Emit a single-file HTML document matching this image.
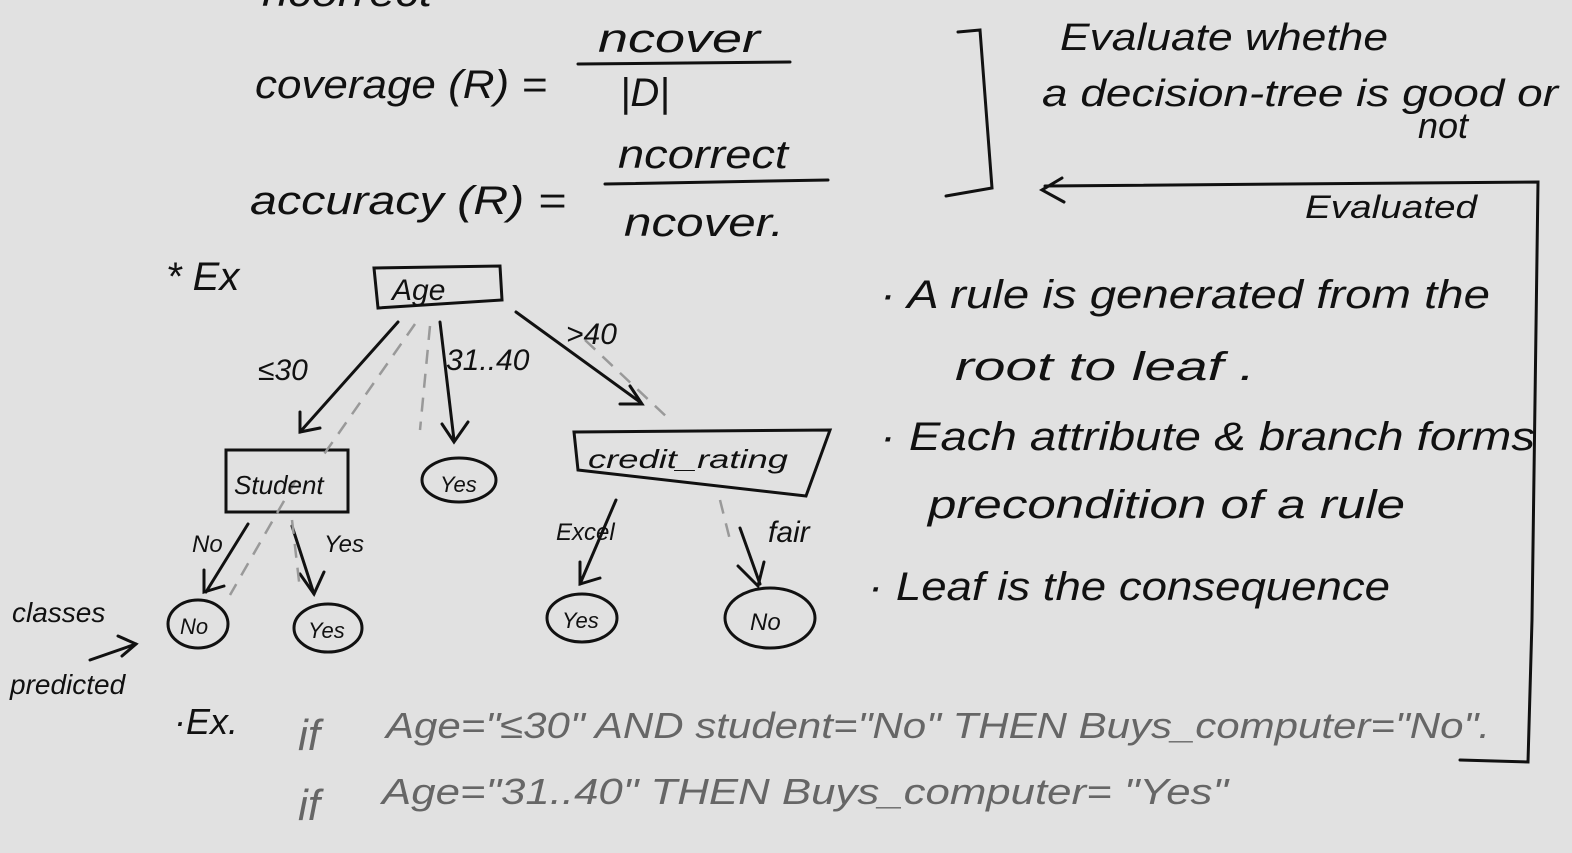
<!DOCTYPE html>
<html><head><meta charset="utf-8"><style>
html,body{margin:0;padding:0;background:#e1e1e1;}
svg{display:block}
text{font-family:"Liberation Sans",sans-serif;fill:#111}
.g{fill:#666}
</style></head><body>
<svg width="1572" height="853" viewBox="0 0 1572 853" xmlns="http://www.w3.org/2000/svg">
<rect width="1572" height="853" fill="#e1e1e1"/>
<g stroke="#111" stroke-width="3" fill="none" stroke-linecap="round">
<line x1="578" y1="64" x2="790" y2="62"/>
<line x1="605" y1="184" x2="828" y2="180"/>
<polyline points="958,32 980,30 992,188 946,196"/>
<polyline points="1460,760 1528,762 1532,620 1538,182 1045,186"/>
<polyline points="1062,178 1042,190 1064,202"/>
<polygon points="374,268 500,266 502,300 378,308"/>
<rect x="226" y="450" width="122" height="62"/>
<polygon points="574,432 830,430 806,496 578,470"/>
<ellipse cx="459" cy="480" rx="37" ry="22"/>
<ellipse cx="198" cy="624" rx="30" ry="24"/>
<ellipse cx="328" cy="628" rx="34" ry="24"/>
<ellipse cx="582" cy="618" rx="35" ry="24"/>
<ellipse cx="770" cy="618" rx="45" ry="30"/>
<line x1="398" y1="322" x2="300" y2="432"/>
<polyline points="300,412 300,432 320,428"/>
<line x1="440" y1="322" x2="454" y2="440"/>
<polyline points="442,424 454,442 468,422"/>
<line x1="516" y1="312" x2="640" y2="402"/>
<polyline points="620,404 642,404 630,386"/>
<line x1="248" y1="524" x2="206" y2="592"/>
<polyline points="204,570 204,592 224,586"/>
<line x1="292" y1="526" x2="314" y2="594"/>
<polyline points="300,574 314,594 324,572"/>
<line x1="616" y1="500" x2="580" y2="584"/>
<polyline points="580,562 580,584 600,578"/>
<line x1="740" y1="528" x2="760" y2="584"/>
<polyline points="738,566 758,586 764,562"/>
<line x1="90" y1="660" x2="136" y2="644"/>
<polyline points="118,636 136,644 122,656"/>
</g>
<g stroke="#999" stroke-width="2.5" fill="none" stroke-dasharray="14 10">
<line x1="415" y1="324" x2="320" y2="460"/>
<line x1="296" y1="480" x2="230" y2="595"/>
<line x1="430" y1="326" x2="420" y2="430"/>
<line x1="585" y1="340" x2="670" y2="420"/>
<line x1="292" y1="520" x2="300" y2="590"/>
<line x1="720" y1="500" x2="730" y2="540"/>
</g>
<g font-size="40" font-style="italic" lengthAdjust="spacingAndGlyphs">
<text x="262" y="6" textLength="170" lengthAdjust="spacingAndGlyphs">ncorrect</text>
<text x="255" y="98" textLength="292" lengthAdjust="spacingAndGlyphs">coverage (R) =</text>
<text x="598" y="52" textLength="162" lengthAdjust="spacingAndGlyphs">ncover</text>
<text x="620" y="106">|D|</text>
<text x="250" y="214" textLength="316" lengthAdjust="spacingAndGlyphs">accuracy (R) =</text>
<text x="618" y="168" textLength="170" lengthAdjust="spacingAndGlyphs">ncorrect</text>
<text x="624" y="236" textLength="160" lengthAdjust="spacingAndGlyphs">ncover.</text>
<text x="1060" y="50" font-size="38" textLength="328" lengthAdjust="spacingAndGlyphs">Evaluate whethe</text>
<text x="1042" y="106" font-size="38" textLength="516" lengthAdjust="spacingAndGlyphs">a decision-tree is good or</text>
<text x="1418" y="138" font-size="36">not</text>
<text x="1305" y="218" font-size="32" textLength="172" lengthAdjust="spacingAndGlyphs">Evaluated</text>
<text x="166" y="290">* Ex</text>
<text x="880" y="308" textLength="610" lengthAdjust="spacingAndGlyphs">· A rule is generated from the</text>
<text x="955" y="380" textLength="300" lengthAdjust="spacingAndGlyphs">root to leaf .</text>
<text x="880" y="450" textLength="655" lengthAdjust="spacingAndGlyphs">· Each attribute &amp; branch forms</text>
<text x="928" y="518" textLength="477" lengthAdjust="spacingAndGlyphs">precondition of a rule</text>
<text x="868" y="600" textLength="522" lengthAdjust="spacingAndGlyphs">· Leaf is the consequence</text>
</g>
<g font-size="30" font-style="italic">
<text x="392" y="300">Age</text>
<text x="258" y="380">≤30</text>
<text x="446" y="370">31..40</text>
<text x="566" y="344">&gt;40</text>
<text x="234" y="494" font-size="26">Student</text>
<text x="588" y="468" font-size="26" textLength="200" lengthAdjust="spacingAndGlyphs">credit_rating</text>
<text x="440" y="492" font-size="22">Yes</text>
<text x="192" y="552" font-size="24">No</text>
<text x="324" y="552" font-size="24">Yes</text>
<text x="556" y="540" font-size="24">Excel</text>
<text x="768" y="542">fair</text>
<text x="180" y="634" font-size="22">No</text>
<text x="308" y="638" font-size="22">Yes</text>
<text x="562" y="628" font-size="22">Yes</text>
<text x="750" y="630" font-size="24">No</text>
<text x="12" y="622" font-size="28">classes</text>
<text x="10" y="694" font-size="28">predicted</text>
<text x="174" y="734" font-size="36">·Ex.</text>
</g>
<g font-size="36" font-style="italic">
<text class="g" x="298" y="750" font-size="44">if</text>
<text class="g" x="386" y="738" textLength="1104" lengthAdjust="spacingAndGlyphs">Age="≤30" AND student="No"  THEN  Buys_computer="No".</text>
<text class="g" x="298" y="820" font-size="44">if</text>
<text class="g" x="382" y="804" textLength="846" lengthAdjust="spacingAndGlyphs">Age="31..40"  THEN  Buys_computer= "Yes"</text>
</g>
</svg>
</body></html>
